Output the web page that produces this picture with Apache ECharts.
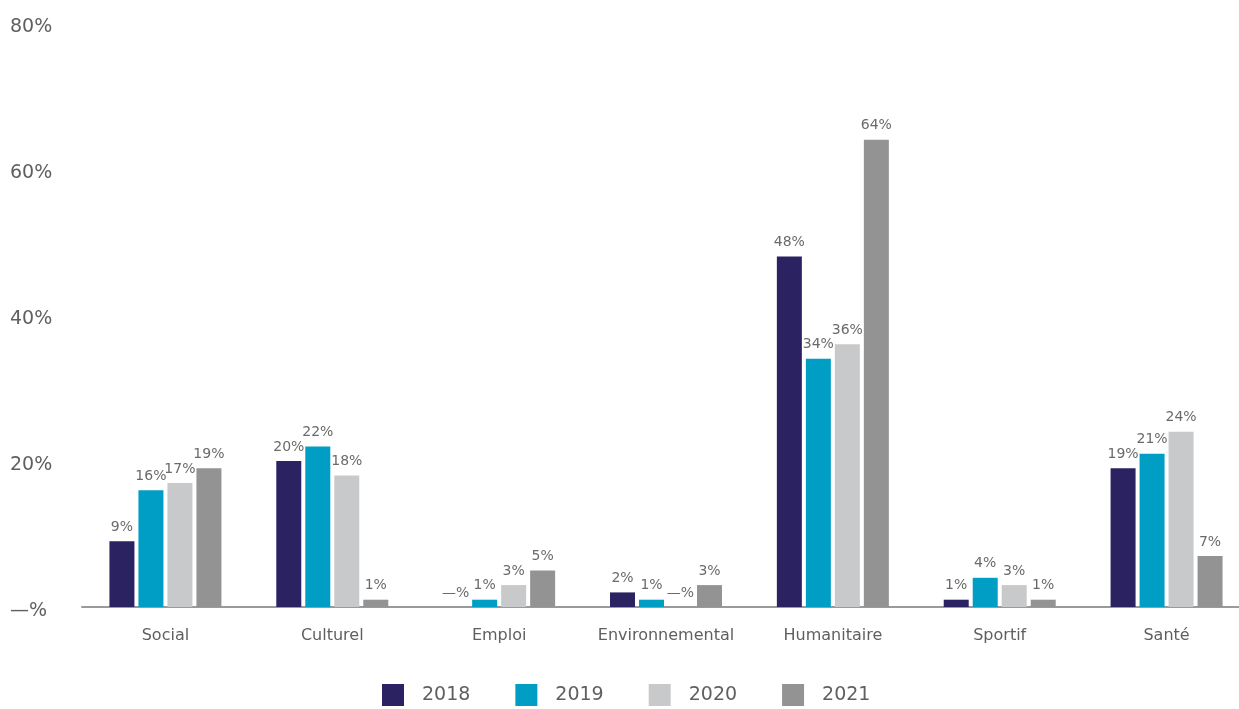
<!DOCTYPE html>
<html>
<head>
<meta charset="utf-8">
<style>
  html, body { margin: 0; padding: 0; background: #fff; overflow: hidden; }
  #chart { width: 1250px; height: 709px; }
</style>
<script src="https://cdn.jsdelivr.net/npm/echarts@6/dist/echarts.min.js"></script>
</head>
<body>
<div id="chart"></div>
<script>
// Répartition des dons par domaine, en pourcentage
const categories = ['Social', 'Culturel', 'Emploi', 'Environnemental', 'Humanitaire', 'Sportif', 'Santé'];
const years = ['2018', '2019', '2020', '2021'];
const values2018 = [9, 20, 0, 2, 48, 1, 19];
const values2019 = [16, 22, 1, 1, 34, 4, 21];
const values2020 = [17, 18, 3, 0, 36, 3, 24];
const values2021 = [19, 1, 5, 3, 64, 1, 7];
const colors = ['#2B2262', '#009DC4', '#C8C9CB', '#939393'];

const FONT = '"DejaVu Sans", sans-serif';
const TEXT = '#5f5f5f';
const pct = v => (v === 0 ? '—%' : v + '%');

const seriesValues = [values2018, values2019, values2020, values2021];

const chart = echarts.init(document.getElementById('chart'));
chart.setOption({
  animation: false,
  color: colors,
  textStyle: { fontFamily: FONT },
  grid: { left: 82, right: 0, top: 23, height: 584 },
  legend: {
    top: 679,
    left: 377,
    itemWidth: 22,
    itemHeight: 22,
    itemGap: 45,
    icon: 'rect',
    textStyle: { fontSize: 19, color: TEXT, fontFamily: FONT, padding: [0, 0, 0, 13] },
    data: years
  },
  xAxis: {
    type: 'category',
    data: categories,
    axisLine: { lineStyle: { color: '#9a9a9a', width: 2 } },
    axisTick: { show: false },
    axisLabel: { color: TEXT, fontSize: 16, margin: 21, interval: 0, fontFamily: FONT }
  },
  yAxis: {
    type: 'value',
    min: 0,
    max: 80,
    interval: 20,
    splitLine: { show: false },
    axisLine: { show: false },
    axisTick: { show: false },
    axisLabel: {
      align: 'left',
      margin: 72,
      formatter: v => '{t|' + pct(v) + '}',
      rich: {
        t: {
          color: TEXT,
          fontSize: 19,
          fontFamily: FONT,
          padding: [8, 0, 0, 0]
        }
      }
    }
  },
  series: years.map((y, i) => ({
    name: y,
    type: 'bar',
    data: seriesValues[i],
    barWidth: 25,
    barGap: '16%',
    label: {
      show: true,
      position: 'top',
      distance: 7,
      color: '#6a6a6a',
      fontSize: 14,
      fontFamily: FONT,
      formatter: p => pct(p.value)
    }
  }))
});
</script>
</body>
</html>
